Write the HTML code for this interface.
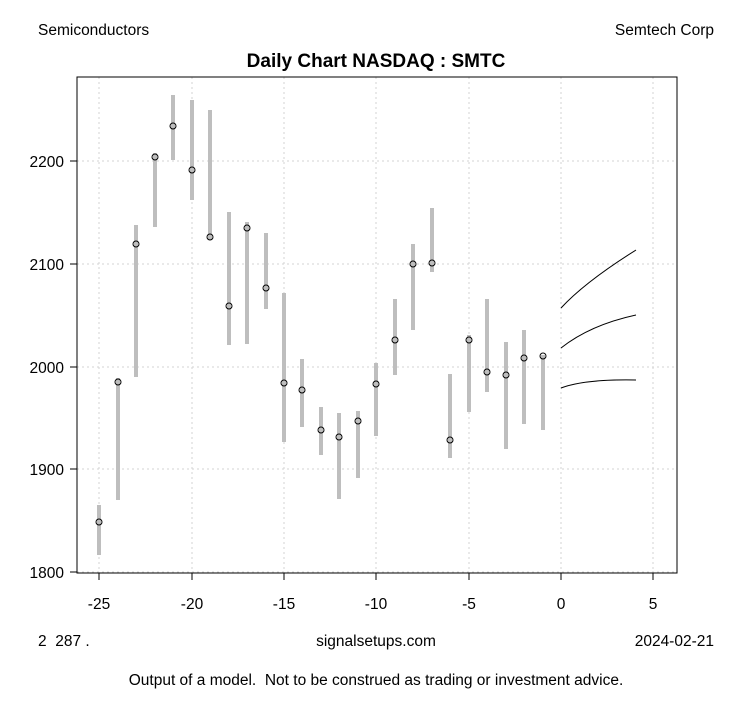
<!DOCTYPE html>
<html><head><meta charset="utf-8"><style>body{margin:0;background:#fff}svg{display:block}text{font-family:"Liberation Sans",sans-serif;white-space:pre}</style></head><body>
<svg width="753" height="708" xmlns="http://www.w3.org/2000/svg">
<rect width="753" height="708" fill="#fff"/>
<g stroke="#d3d3d3" stroke-dasharray="2,3" stroke-width="1">
<line x1="99" y1="77" x2="99" y2="573"/><line x1="192" y1="77" x2="192" y2="573"/><line x1="284" y1="77" x2="284" y2="573"/><line x1="376" y1="77" x2="376" y2="573"/><line x1="469" y1="77" x2="469" y2="573"/><line x1="561" y1="77" x2="561" y2="573"/><line x1="653" y1="77" x2="653" y2="573"/>
<line x1="77" y1="161" x2="677" y2="161"/><line x1="77" y1="264" x2="677" y2="264"/><line x1="77" y1="367" x2="677" y2="367"/><line x1="77" y1="469" x2="677" y2="469"/><line x1="77" y1="572" x2="677" y2="572"/>
</g>
<g stroke="#bebebe" stroke-width="4">
<line x1="99" y1="505" x2="99" y2="555"/><line x1="118" y1="378" x2="118" y2="500"/><line x1="136" y1="225" x2="136" y2="377"/><line x1="155" y1="153" x2="155" y2="227"/><line x1="173" y1="95" x2="173" y2="160"/><line x1="192" y1="100" x2="192" y2="200"/><line x1="210" y1="110" x2="210" y2="240"/><line x1="229" y1="212" x2="229" y2="345"/><line x1="247" y1="222" x2="247" y2="344"/><line x1="266" y1="233" x2="266" y2="309"/><line x1="284" y1="293" x2="284" y2="442"/><line x1="302" y1="359" x2="302" y2="427"/><line x1="321" y1="407" x2="321" y2="455"/><line x1="339" y1="413" x2="339" y2="499"/><line x1="358" y1="411" x2="358" y2="478"/><line x1="376" y1="363" x2="376" y2="436"/><line x1="395" y1="299" x2="395" y2="375"/><line x1="413" y1="244" x2="413" y2="330"/><line x1="432" y1="208" x2="432" y2="272"/><line x1="450" y1="374" x2="450" y2="458"/><line x1="469" y1="335" x2="469" y2="412"/><line x1="487" y1="299" x2="487" y2="392"/><line x1="506" y1="342" x2="506" y2="449"/><line x1="524" y1="330" x2="524" y2="424"/><line x1="543" y1="355" x2="543" y2="430"/>
</g>
<g fill="none" stroke="#000" stroke-width="1">
<circle cx="99" cy="522" r="3"/><circle cx="118" cy="382" r="3"/><circle cx="136" cy="244" r="3"/><circle cx="155" cy="157" r="3"/><circle cx="173" cy="126" r="3"/><circle cx="192" cy="170" r="3"/><circle cx="210" cy="237" r="3"/><circle cx="229" cy="306" r="3"/><circle cx="247" cy="228" r="3"/><circle cx="266" cy="288" r="3"/><circle cx="284" cy="383" r="3"/><circle cx="302" cy="390" r="3"/><circle cx="321" cy="430" r="3"/><circle cx="339" cy="437" r="3"/><circle cx="358" cy="421" r="3"/><circle cx="376" cy="384" r="3"/><circle cx="395" cy="340" r="3"/><circle cx="413" cy="264" r="3"/><circle cx="432" cy="263" r="3"/><circle cx="450" cy="440" r="3"/><circle cx="469" cy="340" r="3"/><circle cx="487" cy="372" r="3"/><circle cx="506" cy="375" r="3"/><circle cx="524" cy="358" r="3"/><circle cx="543" cy="356" r="3"/>
<path d="M561,308 Q585,282 636,250"/>
<path d="M561,348 Q590,325 636,315"/>
<path d="M561,388 Q585,379 636,380"/>
<rect x="77" y="77" width="600" height="496"/>
<path d="M99,573v7M192,573v7M284,573v7M376,573v7M469,573v7M561,573v7M653,573v7"/>
<path d="M77,161h-7M77,264h-7M77,367h-7M77,469h-7M77,572h-7"/>
</g>
<g font-size="15.5" fill="#000">
<text x="99" y="609" text-anchor="middle">-25</text><text x="192" y="609" text-anchor="middle">-20</text><text x="284" y="609" text-anchor="middle">-15</text><text x="376" y="609" text-anchor="middle">-10</text><text x="469" y="609" text-anchor="middle">-5</text><text x="561" y="609" text-anchor="middle">0</text><text x="653" y="609" text-anchor="middle">5</text>
<text x="64" y="167" text-anchor="end">2200</text><text x="64" y="270" text-anchor="end">2100</text><text x="64" y="373" text-anchor="end">2000</text><text x="64" y="475" text-anchor="end">1900</text><text x="64" y="578" text-anchor="end">1800</text>
<text x="38" y="35">Semiconductors</text><text x="714" y="35" text-anchor="end">Semtech Corp</text>
<text x="376" y="67" text-anchor="middle" font-weight="bold" font-size="19">Daily Chart NASDAQ : SMTC</text>
<text x="38" y="646">2  287 .</text><text x="376" y="646" text-anchor="middle">signalsetups.com</text><text x="714" y="646" text-anchor="end">2024-02-21</text>
<text x="376" y="685" text-anchor="middle">Output of a model.  Not to be construed as trading or investment advice.</text>
</g>
</svg>
</body></html>
